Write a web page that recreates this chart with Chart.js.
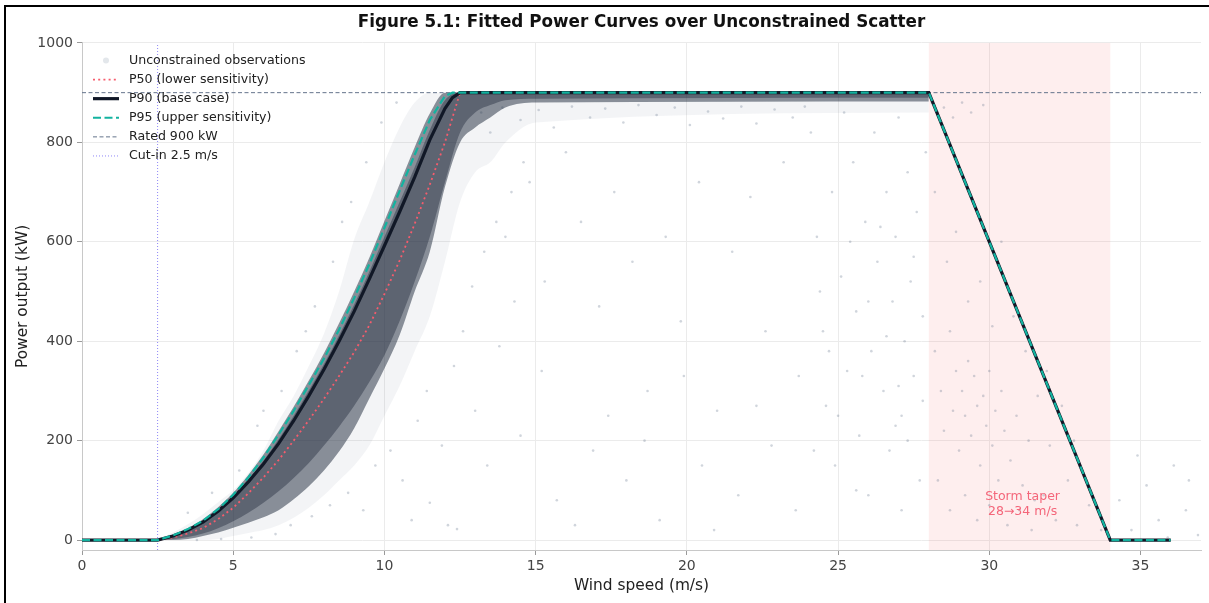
<!DOCTYPE html>
<html>
<head>
<meta charset="utf-8">
<script src="https://cdn.jsdelivr.net/npm/chart.js@4.4.1/dist/chart.umd.min.js"></script>
<style>
  html, body { margin: 0; padding: 0; background: #fff; overflow: hidden; }
  #wrap { position: relative; width: 1209px; height: 603px; }
  #frame { position: absolute; left: 4px; top: 5px; width: 1300px; height: 700px;
           border-left: 2px solid #000; border-top: 2px solid #000; pointer-events: none; }
</style>
</head>
<body>
<div id="wrap">
  <canvas id="chart" width="1209" height="603"></canvas>
  <div id="frame"></div>
</div>
<script>
'use strict';

// fitted curves (wind speed m/s -> kW)
const windX = [0, 2.5, 3, 3.5, 4, 4.5, 5, 5.5, 6, 6.5, 7, 7.5, 8, 8.5, 9, 9.5, 10, 10.5, 11, 11.5, 12, 12.25, 12.5, 28, 34, 36];
const p50 = [0, 0, 5, 13, 24, 42, 65, 94, 126, 161, 200, 241, 284, 330, 378, 432, 495, 562, 636, 715, 800, 850, 900, 900, 0, 0];
const p90 = [0, 0, 8, 20, 36, 58, 85, 117, 153, 194, 240, 290, 343, 400, 460, 525, 592, 660, 730, 805, 868, 890, 900, 900, 0, 0];
const p95 = [0, 0, 9, 22, 39, 62, 91, 126, 166, 212, 260, 312, 365, 423, 487, 555, 628, 702, 775, 845, 893, 900, 900, 900, 0, 0];

// density envelopes of the observation cloud
const bandX = [2.5, 3, 3.5, 4, 4.5, 5, 5.5, 6, 6.5, 7, 7.5, 8, 8.5, 9, 9.5, 10, 10.5, 11, 11.5, 12, 12.5, 13, 13.5, 14, 15, 28];
const innerHi = [0, 8, 21, 38, 60, 88, 122, 160, 203, 250, 301, 354, 412, 474, 540, 610, 680, 750, 825, 885, 900, 900, 900, 900, 900, 900];
const innerLo = [0, 2, 6, 13, 24, 38, 55, 75, 98, 125, 155, 190, 228, 270, 318, 372, 440, 520, 610, 720, 820, 860, 875, 885, 888, 890];
const coreHi = [0, 10, 24, 42, 66, 95, 131, 172, 219, 268, 321, 376, 436, 500, 568, 642, 716, 790, 858, 900, 900, 900, 900, 900, 900, 900];
const coreLo = [0, 0, 2, 8, 15, 25, 35, 46, 60, 82, 108, 140, 178, 225, 285, 345, 412, 500, 580, 710, 800, 830, 850, 870, 880, 882];
const fringeHi = [0, 15, 32, 52, 76, 100, 135, 180, 240, 290, 350, 415, 500, 605, 680, 760, 830, 880, 900, 900, 900, 900, 900, 900, 900, 900];
const fringeLo = [0, 0, 0, 0, 2, 8, 14, 20, 30, 45, 65, 90, 120, 150, 190, 250, 310, 380, 450, 560, 680, 740, 760, 800, 840, 860];

// sparse observations away from the main cloud
const scatterPts = [
  [3.8,0],[4.6,2],[5.6,5],[6.4,12],[6.9,30],[7.6,48],[8.2,70],[8.8,95],[9.3,60],[9.7,150],[10.2,180],[10.6,120],
  [11.1,240],[11.4,300],[11.9,190],[12.3,350],[12.6,420],[12.9,510],[13.3,580],[13.7,640],[14.2,700],[14.6,760],
  [12.1,30],[12.4,22],[11.5,75],[10.9,40],[13.0,260],[13.8,390],[14.3,480],[5.2,140],[5.8,230],[6.6,300],[7.1,380],
  [7.7,470],[8.3,560],[8.9,680],[9.4,760],[9.9,840],[10.4,880],[6.0,260],[7.4,420],[8.6,640],[4.3,95],[3.5,55],
  [13.2,860],[13.5,820],[13.9,870],[14.5,845],[15.1,865],[15.6,830],[16.2,872],[16.8,850],[17.3,868],[17.9,840],
  [18.4,875],[19.0,855],[19.6,870],[20.1,835],[20.7,862],[21.2,848],[21.8,872],[22.3,838],[22.9,866],[23.5,850],[23.9,872],
  [14.0,610],[14.8,720],[15.3,520],[16.0,780],[16.5,640],[17.1,470],[17.6,700],[18.2,560],[18.7,300],[19.3,610],
  [19.8,440],[20.4,720],[21.0,260],[21.5,580],[22.1,690],[22.6,420],[23.2,760],[23.7,330],
  [14.5,210],[15.7,80],[16.9,180],[18.0,120],[19.1,40],[20.5,150],[21.7,90],[22.8,190],[23.6,60],[15.2,340],
  [17.4,250],[19.9,330],[22.3,270],[13.4,150],[16.3,30],[20.9,20],[18.6,200],
  [24.1,820],[24.3,610],[24.5,420],[24.6,270],[24.8,700],[24.9,150],[25.1,530],[25.2,860],[25.3,340],[25.5,760],
  [25.6,460],[25.7,210],[25.9,640],[26.0,90],[26.1,380],[26.2,820],[26.3,560],[26.5,300],[26.6,700],[26.7,180],
  [26.8,480],[26.9,610],[27.0,850],[27.1,250],[27.2,400],[27.3,740],[27.4,520],[27.5,330],[27.6,660],[27.7,120],
  [27.8,450],[27.9,780],[24.4,500],[25.0,250],[25.8,330],[26.4,630],[27.0,310],[27.5,570],[24.7,380],[26.0,480],
  [26.9,230],[27.3,200],[25.4,600],[26.6,410],[27.8,280],[24.2,180],[25.6,100],[27.1,60],
  [28.1,880],[28.3,860],[28.5,870],[28.8,850],[29.1,880],[29.4,860],[29.8,875],[28.2,700],[28.6,560],[28.9,620],
  [29.3,480],[29.7,520],[30.1,430],[30.4,600],
  [28.2,380],[28.4,300],[28.5,220],[28.7,420],[28.8,260],[28.9,340],[29.0,180],[29.1,300],[29.2,250],[29.3,360],
  [29.4,210],[29.5,330],[29.6,270],[29.7,150],[29.8,290],[29.9,230],[30.0,340],[30.1,190],[30.2,260],[30.3,120],
  [30.4,300],[30.5,220],[30.7,160],[30.9,250],[31.1,110],[31.3,200],[31.5,80],
  [28.3,120],[28.7,60],[29.2,90],[29.6,40],[30.0,70],[30.6,30],[31.0,60],[31.4,20],[31.8,90],[32.2,40],[32.6,120],
  [32.9,30],[33.3,70],[33.7,20],[31.2,380],[31.6,290],[32.0,190],[32.4,270],[30.8,450],[31.9,340],[32.8,200],
  [34.3,80],[34.7,20],[35.2,110],[35.6,40],[36.1,150],[36.5,60],[36.9,10],[34.9,170],[35.9,5],[36.6,120]
];

const ratedKw = 900;
const cutIn = 2.5;
const taperStart = 28;
const taperEnd = 34;
const xTicks = [0, 5, 10, 15, 20, 25, 30, 35];
const yTicks = [0, 200, 400, 600, 800, 1000];
const legendLabels = ['Unconstrained observations', 'P50 (lower sensitivity)', 'P90 (base case)',
  'P95 (upper sensitivity)', 'Rated 900 kW', 'Cut-in 2.5 m/s'];

const FONT = "'DejaVu Sans', sans-serif";
const RED = '#f75c6d', NAVY = '#111827', TEAL = '#13b3a0', SLATE = '#64748b', LILAC = '#8f86f7';

Chart.defaults.font.family = FONT;

const toXY = (xs, ys) => xs.map((x, i) => ({x: x, y: ys[i]}));

const curve = (data, color, width, dash, order) => ({
  type: 'line', data: data, borderColor: color, borderWidth: width, borderDash: dash,
  pointRadius: 0, tension: 0, fill: false, order: order
});

const band = (data, fill, color, order) => ({
  type: 'line', data: data, borderColor: 'transparent', borderWidth: 0, backgroundColor: color,
  pointRadius: 0, cubicInterpolationMode: 'monotone', fill: fill, order: order
});

const decor = {
  id: 'decor',
  beforeDatasetsDraw(chart) {
    const {ctx, chartArea: a, scales: {x}} = chart;
    const x0 = x.getPixelForValue(taperStart), x1 = x.getPixelForValue(taperEnd);
    ctx.save();
    ctx.fillStyle = 'rgba(248,113,113,0.12)';
    ctx.fillRect(x0, a.top, x1 - x0, a.bottom - a.top);
    ctx.restore();
  },
  afterDraw(chart) {
    const {ctx, chartArea: a, scales: {x, y}} = chart;
    ctx.save();
    // storm annotation
    ctx.fillStyle = '#f4667a';
    ctx.font = '12.5px ' + FONT;
    ctx.textAlign = 'center';
    ctx.textBaseline = 'middle';
    const sx = x.getPixelForValue((taperStart + taperEnd) / 2 + 0.1);
    const sy = y.getPixelForValue(72);
    ctx.fillText('Storm taper', sx, sy - 7.5);
    ctx.fillText('28\u219234 m/s', sx, sy + 7.5);

    // legend
    const lx = a.left + 11, tx = a.left + 47;
    const styles = [
      null,
      {c: RED, w: 1.8, d: [2, 3.2]},
      {c: NAVY, w: 3.2, d: []},
      {c: TEAL, w: 2.2, d: [8, 3.5]},
      {c: SLATE, w: 1, d: [4, 2.5]},
      {c: LILAC, w: 1, d: [1, 2]}
    ];
    ctx.textAlign = 'left';
    ctx.font = '12.6px ' + FONT;
    legendLabels.forEach((label, i) => {
      const ry = a.top + 17.5 + i * 19.1;
      const s = styles[i];
      if (!s) {
        ctx.fillStyle = '#e3e7eb';
        ctx.beginPath();
        ctx.arc(lx + 13, ry, 3, 0, Math.PI * 2);
        ctx.fill();
      } else {
        ctx.strokeStyle = s.c;
        ctx.lineWidth = s.w;
        ctx.setLineDash(s.d);
        ctx.beginPath();
        ctx.moveTo(lx, ry);
        ctx.lineTo(lx + 26, ry);
        ctx.stroke();
        ctx.setLineDash([]);
      }
      ctx.fillStyle = '#222';
      ctx.fillText(label, tx, ry);
    });
    ctx.restore();
  }
};

const ctx = document.querySelector('#chart').getContext('2d');

const chart = new Chart(ctx, {
  type: 'scatter',
  data: {
    datasets: [
      curve(toXY(windX, p95), TEAL, 2.2, [8, 3.5], 1),
      curve(toXY(windX, p90), NAVY, 3.2, [], 2),
      curve(toXY(windX, p50), RED, 1.8, [2, 3.2], 3),
      curve([{x: 0, y: ratedKw}, {x: 37, y: ratedKw}], SLATE, 1, [4, 2.5], 4),
      curve([{x: cutIn, y: -20}, {x: cutIn, y: 1000}], LILAC, 1, [1, 2], 4),
      band(toXY(bandX, innerHi), '+1', 'rgba(15,23,42,0.35)', 5),
      band(toXY(bandX, innerLo), false, 'transparent', 5),
      band(toXY(bandX, coreHi), '+1', 'rgba(30,41,59,0.5)', 6),
      band(toXY(bandX, coreLo), false, 'transparent', 6),
      band(toXY(bandX, fringeHi), '+1', 'rgba(100,116,139,0.08)', 7),
      band(toXY(bandX, fringeLo), false, 'transparent', 7),
      {
        type: 'scatter',
        data: scatterPts.map(p => ({x: p[0], y: p[1]})),
        backgroundColor: 'rgba(100,116,139,0.3)',
        borderWidth: 0,
        pointRadius: 1.3,
        order: 8
      }
    ]
  },
  options: {
    responsive: false,
    animation: false,
    devicePixelRatio: 1,
    layout: {padding: {left: 0, right: 8, top: 0, bottom: 0}},
    plugins: {
      legend: {display: false},
      tooltip: {enabled: false},
      title: {
        display: true,
        text: 'Figure 5.1: Fitted Power Curves over Unconstrained Scatter',
        fullSize: false,
        color: '#111',
        font: {size: 16.8, weight: 'bold', family: FONT},
        padding: {top: 13, bottom: 9.8}
      }
    },
    scales: {
      x: {
        type: 'linear', min: 0, max: 37,
        afterBuildTicks: s => { s.ticks = xTicks.map(v => ({value: v})); },
        afterFit: s => { s.height = 53; },
        grid: {color: '#ebebeb', tickColor: '#9a9a9a', tickLength: 5},
        border: {color: '#c8c8c8'},
        ticks: {color: '#444', font: {size: 14}, padding: 3, maxRotation: 0, callback: v => String(v)},
        title: {display: true, text: 'Wind speed (m/s)', color: '#222', font: {size: 15.4}, padding: {top: 0, bottom: 7.8}}
      },
      y: {
        type: 'linear', min: -20, max: 1000,
        afterBuildTicks: s => { s.ticks = yTicks.map(v => ({value: v})); },
        afterFit: s => { s.width = 82; },
        grid: {color: '#ebebeb', tickColor: '#9a9a9a', tickLength: 5},
        border: {color: '#c8c8c8'},
        ticks: {color: '#444', font: {size: 14}, padding: 4, callback: v => String(v)},
        title: {display: true, text: 'Power output (kW)', color: '#222', font: {size: 15.4}, padding: {top: 14, bottom: 0}}
      }
    }
  },
  plugins: [decor]
});
chart.render();
</script>
</body>
</html>
